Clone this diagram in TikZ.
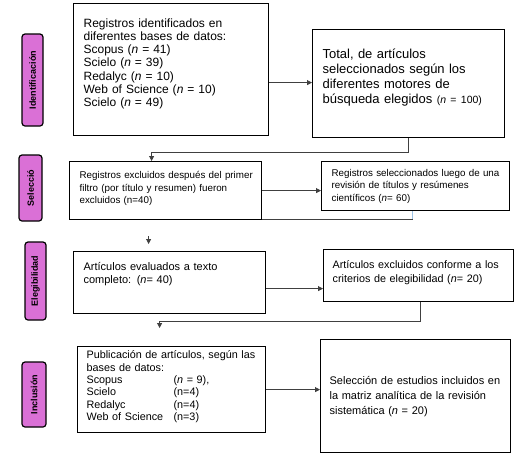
\documentclass[tikz,border=0pt]{standalone}
\usepackage{fontspec}
\setmainfont{Liberation Sans}
\usepackage{tikz}
\usetikzlibrary{arrows.meta, positioning}
\definecolor{prsPink}{HTML}{DA70D6}
\definecolor{prsGray}{HTML}{404040}
\definecolor{prsBlue}{HTML}{9DC3E6}
\newcommand{\txtsize}[2]{\fontsize{#1}{#2}\selectfont}
\newcommand{\lift}[1]{\rule[-#1pt]{0pt}{0pt}}

\begin{document}
\begin{tikzpicture}[
  x=1pt, y=1pt,
  box/.style 2 args={
    rectangle, draw=black, line width=1.2pt, anchor=north west,
    inner xsep=10pt, inner ysep=2pt, align=left,
    text width=#1pt, minimum height=#2pt,
  },
  tab/.style={
    rectangle, rounded corners=3pt, draw=black, fill=prsPink,
    line width=1.2pt, rotate=90, inner sep=0pt,
    font=\bfseries\txtsize{9}{9},
  },
  line/.style={line width=0.9pt, color=prsGray},
  arr/.style={-{Triangle[length=5pt, width=5pt]}, line width=0.9pt, color=prsGray},
]
\useasboundingbox (0,0) rectangle (518,-456);

% Phases
\node[tab, minimum width=92pt, minimum height=21pt] (tId)  at (32.5,-80)   {Identificación};
\node[tab, minimum width=66pt, minimum height=23pt] (tSel) at (30.5,-188)  {Selecció};
\node[tab, minimum width=78pt, minimum height=21pt] (tEle) at (35.5,-281)  {Elegibilidad};
\node[tab, minimum width=65pt, minimum height=24pt] (tInc) at (34,-394.5)  {Inclusión};

% Boxes
\node[box={175}{132}, font=\txtsize{12}{13.2}] (reg) at (73,-3)
  {Registros identificados en\\ diferentes bases de datos:\\
   Scopus (\textit{n} = 41)\\ Scielo (\textit{n} = 39)\\ Redalyc (\textit{n} = 10)\\
   Web of Science (\textit{n} = 10)\\ Scielo (\textit{n} = 49)\lift{14}};
\node[box={172}{108}, font=\txtsize{13}{15}] (tot) at (312,-29)
  {Total, de artículos\\ seleccionados según los\\ diferentes motores de\\
   búsqueda elegidos {\txtsize{10.5}{15}(\textit{n} = 100)}\lift{14}};

\node[box={172}{58}, font=\txtsize{9.8}{12.5}] (exc) at (69,-161)
  {\mbox{Registros excluidos después del primer}\\ filtro (por título y resumen) fueron\\
   excluidos (n=40)\lift{6}};
\node[box={168}{49}, font=\txtsize{9.8}{12.5}] (sel) at (321,-161)
  {\mbox{Registros seleccionados luego de una}\\ revisión de títulos y resúmenes\\
   científicos (\textit{n}= 60)};

\node[box={172}{62}, font=\txtsize{11}{13.3}] (eva) at (73,-251)
  {Artículos evaluados a texto\\ completo: (\textit{n}= 40)\lift{20}};
\node[box={172}{52}, inner xsep=9pt, font=\txtsize{10.8}{13.3}] (exe) at (323,-249)
  {Artículos excluidos conforme a los\\ criterios de elegibilidad (\textit{n}= 20)\lift{8}};

\node[box={170}{86}, inner xsep=9pt, font=\txtsize{10.8}{12.3}] (pub) at (77,-346)
  {Publicación de artículos, según las\\ bases de datos:\\
   \makebox[87pt][l]{Scopus}(\textit{n} = 9),\\
   \makebox[87pt][l]{Scielo}(n=4)\\
   \makebox[87pt][l]{Redalyc}(n=4)\\
   \makebox[87pt][l]{Web of Science}(n=3)\lift{8}};
\node[box={172}{113}, inner xsep=9pt, font=\txtsize{11}{15}] (inc) at (320,-339)
  {Selección de estudios incluidos en\\ la matriz analítica de la revisión\\
   sistemática (\textit{n} = 20)};

% Connectors
\coordinate (r1) at ([yshift=-13pt]reg.east);
\draw[arr] (r1) -- (r1 -| tot.west);
\draw[arr] (tot.south) -- ++(0,-14) -| ([xshift=-14pt]exc.north);

\draw[arr] (exc.east) -- (exc.east -| sel.west);
\draw[line, color=prsBlue] ([xshift=-3pt]sel.south) -- ++(0,-8) coordinate (s1);
\draw[line] (s1) -- (s1 -| exc.east);

\coordinate (c5a) at ([xshift=-21pt, yshift=15pt]eva.north);
\coordinate (c5b) at ([xshift=-21pt, yshift=7pt]eva.north);
\draw[arr] (c5a) -- (c5b);

\coordinate (e1) at ([yshift=-6pt]eva.east);
\draw[arr] (e1) -- (e1 -| exe.west);
\coordinate (c7) at ([xshift=-12pt, yshift=18pt]pub.north);
\draw[arr] ([xshift=2pt]exe.south) -- ++(0,-19) -| (c7);

\draw[arr] (pub.east) -- (pub.east -| inc.west);

\end{tikzpicture}
\end{document}
